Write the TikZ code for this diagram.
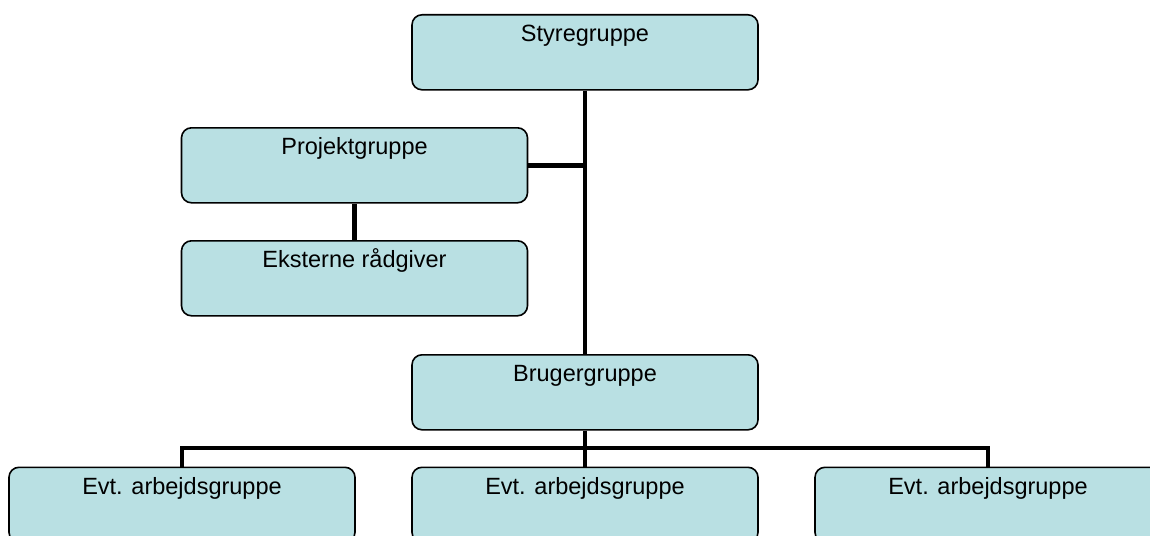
\documentclass[tikz,border=0pt]{standalone}
\usepackage{fontspec}
\setmainfont{Liberation Sans}
\definecolor{boxfill}{RGB}{185,224,227}
\tikzset{
  orgbox/.style={draw=black, fill=boxfill, line width=1.6pt, rounded corners=10pt,
    anchor=north, inner sep=0pt, minimum width=346pt, text height=27pt, text depth=48pt,
    font=\fontsize{23.5}{28}\selectfont},
  conn/.style={draw=black, line width=4.6pt}
}
\begin{document}
\begin{tikzpicture}[x=1pt,y=-1pt]
\useasboundingbox (0,0) rectangle (1150,535);
\clip (0,0) rectangle (1150,535);
\node[orgbox] (sty) at (585,14) {Styregruppe};
\node[orgbox] (prj) at (354.5,127) {Projektgruppe};
\node[orgbox] (eks) at (354.5,240) {Eksterne rådgiver};
\node[orgbox] (brg) at (585,354) {Brugergruppe};
\node[orgbox] (a1) at (182,466.5) {Evt. arbejdsgruppe};
\node[orgbox] (a2) at (585,466.5) {Evt. arbejdsgruppe};
\node[orgbox] (a3) at (988,466.5) {Evt. arbejdsgruppe};
\coordinate (bus) at (585,448);
\draw[conn] (sty.south) -- (brg.north);
\draw[conn] (prj.east) -- (prj.east -| sty.south);
\draw[conn] (prj.south) -- (eks.north);
\draw[conn] (brg.south) -- (bus);
\draw[conn] (a1.north) |- (bus) -| (a3.north);
\draw[conn] (bus) -- (a2.north);
\end{tikzpicture}
\end{document}
